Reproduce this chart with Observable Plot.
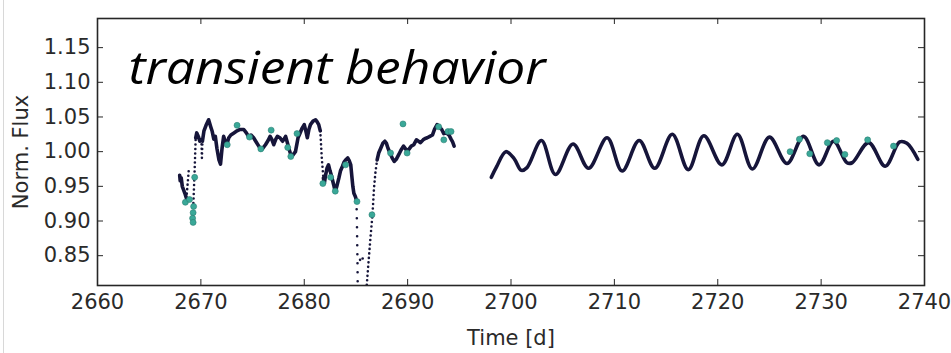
<!DOCTYPE html>
<html><head><meta charset="utf-8">
<script src="https://cdn.jsdelivr.net/npm/d3@7"></script>
<script src="https://cdn.jsdelivr.net/npm/@observablehq/plot@0.6"></script>
<style>
body{margin:0;background:#fff;}
#chart{position:relative;width:951px;height:353px;}
#edge{position:absolute;left:3px;top:0;width:0;height:353px;border-left:1px solid #d8d8d8;}
</style></head><body><div id="chart"><div id="edge"></div></div>
<script>
// ---- tick labels ----
const xTicks = [2660, 2670, 2680, 2690, 2700, 2710, 2720, 2730, 2740];
const yTicks = [0.85, 0.90, 0.95, 1.00, 1.05, 1.10, 1.15];
const titleText = "transient behavior";
const xLabel = "Time [d]";
const yLabel = "Norm. Flux";

const runA_t = [2667.95, 2668.0, 2668.1, 2668.2, 2668.3, 2668.45, 2668.6];
const runA_f = [0.966, 0.958, 0.962, 0.950, 0.946, 0.940, 0.933];

const runB_t = [2669.5, 2669.6, 2669.75, 2669.9, 2670.05, 2670.15, 2670.3, 2670.5, 2670.75, 2670.95, 2671.1, 2671.25, 2671.4, 2671.55, 2671.75, 2671.9, 2672.05, 2672.2, 2672.35, 2672.5, 2672.7, 2672.9, 2673.2, 2673.5, 2673.8, 2674.15, 2674.4, 2674.6, 2674.85, 2675.1, 2675.35, 2675.6, 2675.8, 2676.0, 2676.25, 2676.5, 2676.7, 2676.85, 2677.05, 2677.25, 2677.4, 2677.65, 2677.9, 2678.05, 2678.2, 2678.35, 2678.5, 2678.65, 2678.8, 2678.95, 2679.15, 2679.3, 2679.4, 2679.6, 2679.8, 2680.0, 2680.15, 2680.3, 2680.45, 2680.6, 2680.85, 2681.1, 2681.25, 2681.4, 2681.55];
const runB_f = [1.020, 1.027, 1.022, 1.015, 1.017, 1.015, 1.030, 1.038, 1.046, 1.036, 1.029, 1.018, 1.022, 1.005, 0.988, 0.982, 1.005, 1.022, 1.015, 1.010, 1.020, 1.024, 1.027, 1.030, 1.032, 1.032, 1.027, 1.022, 1.024, 1.020, 1.014, 1.008, 1.003, 1.005, 1.010, 1.016, 1.022, 1.018, 1.010, 1.018, 1.022, 1.020, 1.015, 1.018, 1.022, 1.014, 1.005, 0.998, 0.994, 0.996, 1.000, 1.012, 1.020, 1.027, 1.034, 1.039, 1.030, 1.020, 1.032, 1.039, 1.044, 1.046, 1.043, 1.039, 1.030];

const runC_t = [2681.85, 2681.95, 2682.05, 2682.2, 2682.35, 2682.5, 2682.6, 2682.75, 2682.85, 2683.0, 2683.15, 2683.35, 2683.5, 2683.7, 2683.85, 2684.0, 2684.2, 2684.35, 2684.5, 2684.6, 2684.7, 2684.8, 2684.95, 2685.05];
const runC_f = [0.962, 0.955, 0.965, 0.976, 0.981, 0.972, 0.967, 0.958, 0.952, 0.942, 0.950, 0.962, 0.972, 0.979, 0.985, 0.988, 0.991, 0.987, 0.981, 0.965, 0.950, 0.940, 0.935, 0.930];

const runD_t = [2687.05, 2687.2, 2687.4, 2687.6, 2687.8, 2687.95, 2688.1, 2688.3, 2688.5, 2688.7, 2688.9, 2689.15, 2689.35, 2689.6, 2689.8, 2690.0, 2690.1, 2690.35, 2690.6, 2690.85, 2691.05, 2691.25, 2691.5, 2691.7, 2691.9, 2692.15, 2692.4, 2692.6, 2692.85, 2693.05, 2693.3, 2693.5, 2693.75, 2694.0, 2694.2, 2694.35, 2694.5];
const runD_f = [0.988, 0.998, 1.005, 1.012, 1.015, 1.012, 1.005, 0.998, 0.991, 0.986, 0.989, 0.996, 1.002, 1.008, 1.004, 1.000, 1.003, 1.008, 1.010, 1.017, 1.015, 1.013, 1.017, 1.019, 1.020, 1.022, 1.024, 1.032, 1.039, 1.036, 1.032, 1.026, 1.027, 1.024, 1.018, 1.014, 1.008];

const runE_t = [2698.1, 2698.6, 2699.5, 2700.3, 2701.0, 2701.55, 2702.95, 2704.3, 2706.0, 2707.5, 2709.3, 2710.75, 2712.4, 2713.9, 2715.6, 2717.15, 2718.65, 2720.4, 2721.9, 2723.35, 2725.0, 2726.7, 2728.3, 2729.8, 2731.2, 2732.5, 2733.0, 2734.6, 2736.2, 2737.6, 2738.3, 2739.35];
const runE_f = [0.963, 0.978, 1.000, 0.990, 0.973, 0.977, 1.016, 0.967, 1.011, 0.976, 1.020, 0.972, 1.016, 0.976, 1.025, 0.974, 1.023, 0.981, 1.025, 0.975, 1.021, 0.983, 1.022, 0.981, 1.015, 0.984, 0.984, 1.013, 0.979, 1.014, 1.012, 0.989];

// ---- sparsely sampled steep parts (visible as separate dots) ----
const stepA_t = [2668.6, 2668.7, 2668.8, 2668.85];
const stepA_f = [0.933, 0.950, 0.968, 0.978];
const stepB_t = [2669.2, 2669.3, 2669.4, 2669.5];
const stepB_f = [0.900, 0.935, 0.975, 1.020];
const stepC_t = [2670.05, 2670.1, 2670.15];
const stepC_f = [1.017, 0.991, 1.015];
const stepD_t = [2681.55, 2681.7, 2681.85];
const stepD_f = [1.030, 0.990, 0.962];
const diveDown_t = [2685.05, 2685.1, 2685.12, 2685.15, 2685.17];
const diveDown_f = [0.930, 0.895, 0.871, 0.842, 0.808];
const diveUp_t = [2686.05, 2686.1, 2686.25, 2686.4, 2686.6, 2686.75, 2686.9, 2687.05];
const diveUp_f = [0.808, 0.818, 0.847, 0.875, 0.909, 0.948, 0.972, 0.988];
const loose_t = [2685.4, 2685.65];
const loose_f = [0.844, 0.846];

// ---- flagged points (teal) ----
const flag_t = [2668.5, 2668.9, 2669.3, 2669.25, 2669.2, 2669.25, 2669.4, 2672.55, 2673.5, 2674.7, 2675.8, 2676.8, 2678.4, 2678.7, 2679.3, 2681.8, 2682.55, 2683.0, 2684.0, 2685.1, 2686.55, 2688.35, 2689.55, 2689.95, 2693.0, 2693.5, 2693.9, 2694.2, 2727.0, 2727.9, 2728.9, 2730.6, 2731.5, 2732.3, 2734.5, 2737.0];
const flag_f = [0.927, 0.931, 0.921, 0.912, 0.904, 0.898, 0.963, 1.010, 1.038, 1.021, 1.004, 1.031, 1.006, 0.993, 1.026, 0.954, 0.963, 0.943, 0.981, 0.928, 0.909, 0.998, 1.040, 0.998, 1.036, 1.017, 1.029, 1.029, 1.000, 1.018, 0.997, 1.013, 1.016, 0.996, 1.017, 1.008];

// ---- build tables ----
const pts = (ts, fs, run = 0) => ts.map((t, i) => ({t, f: fs[i], run}));
const jagged = [
  ...pts(runA_t, runA_f, "A"), ...pts(runB_t, runB_f, "B"),
  ...pts(runC_t, runC_f, "C"), ...pts(runD_t, runD_f, "D")
];
const smooth = pts(runE_t, runE_f, "E");
const stepsNear = [
  ...pts(stepA_t, stepA_f, "a"), ...pts(stepB_t, stepB_f, "b"),
  ...pts(stepC_t, stepC_f, "c"), ...pts(stepD_t, stepD_f, "d"),
  ...pts(diveUp_t, diveUp_f, "u")
];
const stepsWide = pts(diveDown_t, diveDown_f, "w");
const loose = pts(loose_t, loose_f);
const flagged = pts(flag_t, flag_f);

const W = 951, H = 353, mL = 97, mR = 27, mT = 18, mB = 68;
const innerW = W - mL - mR, innerH = H - mT - mB;
const dark = "#16153a", teal = "#3aa898", axisC = "#262626";

const chart = Plot.plot({
  width: W, height: H,
  marginLeft: mL, marginRight: mR, marginTop: mT, marginBottom: mB,
  style: {fontFamily: "'DejaVu Sans', sans-serif", fontSize: "21px", color: "#2a2a2a", background: "transparent"},
  x: {domain: [2660, 2740]},
  y: {domain: [0.807, 1.192]},
  marks: [
    Plot.line(jagged, {x: "t", y: "f", z: "run", stroke: dark, strokeWidth: 3.6, strokeLinejoin: "round", strokeLinecap: "round"}),
    Plot.line(smooth, {x: "t", y: "f", z: "run", curve: "catmull-rom", stroke: dark, strokeWidth: 3.6, strokeLinejoin: "round", strokeLinecap: "round"}),
    Plot.line(stepsNear, {x: "t", y: "f", z: "run", stroke: dark, strokeWidth: 2.6, strokeDasharray: "0 4.5", strokeLinecap: "round", clip: true}),
    Plot.line(stepsWide, {x: "t", y: "f", z: "run", stroke: dark, strokeWidth: 2.6, strokeDasharray: "0 9", strokeLinecap: "round", clip: true}),
    Plot.dot(loose, {x: "t", y: "f", r: 1.3, fill: dark}),
    Plot.dot(flagged, {x: "t", y: "f", r: 3, fill: teal, stroke: "#2b7f73", strokeWidth: 0.6}),
    Plot.frame({stroke: axisC, strokeWidth: 1.6}),
    Plot.tickX(xTicks, {x: d => d, insetTop: innerH - 6, stroke: axisC}),
    Plot.tickX(xTicks, {x: d => d, insetBottom: innerH - 6, stroke: axisC}),
    Plot.tickY(yTicks, {y: d => d, insetRight: innerW - 6, stroke: axisC}),
    Plot.tickY(yTicks, {y: d => d, insetLeft: innerW - 6, stroke: axisC}),
    Plot.axisX(xTicks, {tickSize: 0, tickPadding: 9, tickFormat: d => String(d), label: xLabel, labelAnchor: "center", labelArrow: "none", labelOffset: 59, fontSize: 21}),
    Plot.axisY(yTicks, {tickSize: 0, tickPadding: 7, tickFormat: d3.format(".2f"), label: yLabel, labelAnchor: "center", labelArrow: "none", labelOffset: 84, fontSize: 21}),
    Plot.text([titleText], {frameAnchor: "top-left", dx: 31, dy: 65, lineAnchor: "bottom", textAnchor: "start", fontSize: 46, fontStyle: "italic", fontFamily: "'Open Sans'", fill: "#000"})
  ]
});
// stretch the title to the width it has in the reference
d3.select(chart).selectAll("text").filter(function() { return this.textContent === titleText; })
  .attr("textLength", 417).attr("lengthAdjust", "spacingAndGlyphs");
document.getElementById("chart").appendChild(chart);
</script>
</body></html>
